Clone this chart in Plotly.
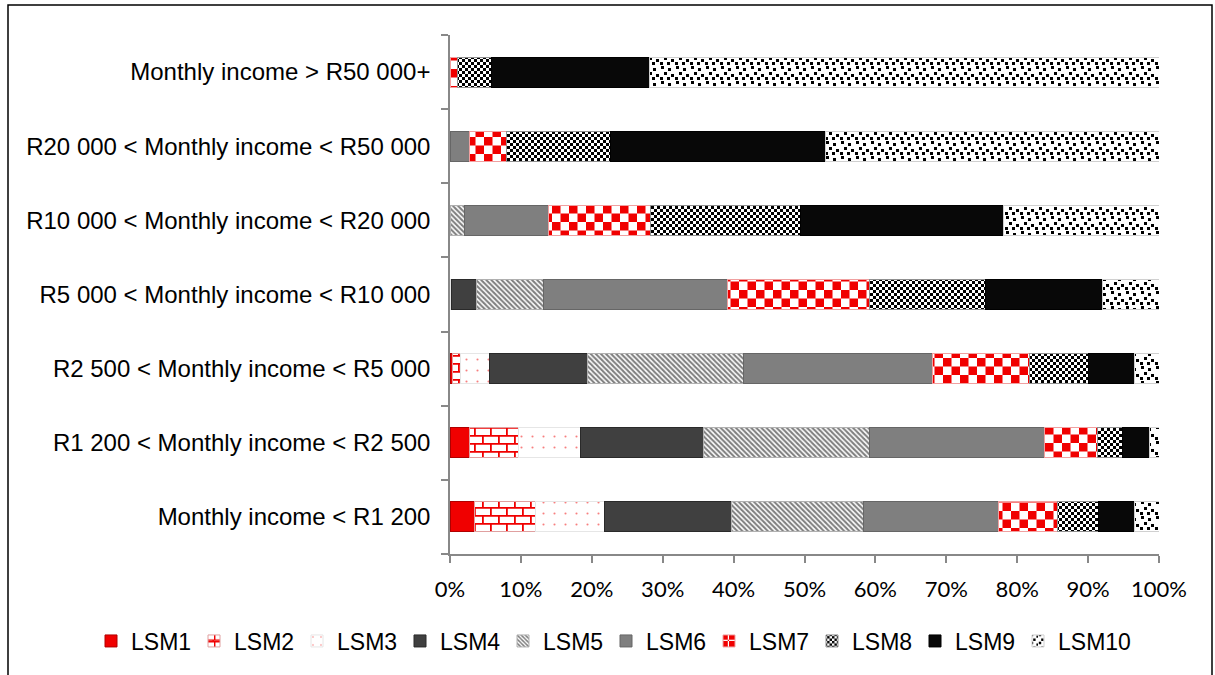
import plotly.graph_objects as go

# Income bands, listed bottom-to-top as they appear on the category axis
categories = [
    "Monthly income < R1 200",
    "R1 200 < Monthly income < R2 500",
    "R2 500 < Monthly income < R5 000",
    "R5 000 < Monthly income < R10 000",
    "R10 000 < Monthly income < R20 000",
    "R20 000 < Monthly income < R50 000",
    "Monthly income > R50 000+",
]

series_names = ["LSM1", "LSM2", "LSM3", "LSM4", "LSM5",
                "LSM6", "LSM7", "LSM8", "LSM9", "LSM10"]

# Share (%) of each LSM group within each income band
lsm1 = [3.5, 2.7, 0.3, 0.0, 0.0, 0.0, 0.0]
lsm2 = [8.5, 7.0, 1.2, 0.0, 0.0, 0.0, 0.0]
lsm3 = [9.8, 8.7, 4.1, 0.2, 0.0, 0.0, 0.0]
lsm4 = [17.9, 17.3, 13.8, 3.6, 0.0, 0.0, 0.0]
lsm5 = [18.6, 23.4, 22.0, 9.4, 2.0, 0.0, 0.0]
lsm6 = [19.0, 24.8, 26.7, 25.9, 11.9, 2.8, 0.0]
lsm7 = [8.4, 7.4, 13.7, 20.0, 14.4, 5.1, 1.0]
lsm8 = [5.7, 3.6, 8.2, 16.4, 21.2, 14.8, 4.9]
lsm9 = [5.2, 3.8, 6.6, 16.6, 28.6, 30.2, 22.3]
lsm10 = [3.4, 1.3, 3.4, 7.9, 21.9, 47.1, 71.8]

series_values = [lsm1, lsm2, lsm3, lsm4, lsm5, lsm6, lsm7, lsm8, lsm9, lsm10]

x_ticks = [0, 10, 20, 30, 40, 50, 60, 70, 80, 90, 100]
x_tick_labels = [f"{v}%" for v in x_ticks]


def checker(s):
    h = s / 2
    return f"M0,0H{h}V{h}H0Z M{h},{h}H{s}V{s}H{h}Z"


BRICK = "M0,0H16V1.8H0Z M0,8H16V9.8H0Z M0,0H1.8V8H0Z M8,8H9.8V16H8Z"
CONFETTI = ("M1,1H4V4H1Z M8,3H11V6H8Z M4,7H7V10H4Z "
            "M11,9H14V12H11Z M0,12H3V15H0Z M7,12H10V15H7Z")

red = "#F00000"
axis_grey = "#888888"

styles = [
    dict(color=red, line="#B00000", pattern=None),
    dict(color="white", line="#E0A0A0",
         pattern=dict(path=BRICK, size=16, fgcolor=red, bgcolor="white", fillmode="replace")),
    dict(color="white", line="#E6E6E6",
         pattern=dict(shape=".", size=11, solidity=0.03, fgcolor=red, bgcolor="white")),
    dict(color="#404040", line="#2A2A2A", pattern=None),
    dict(color="white", line="#B0B0B0",
         pattern=dict(shape="\\", size=3.6, solidity=0.55, fgcolor="black", bgcolor="white")),
    dict(color="#7F7F7F", line="#666666", pattern=None),
    dict(color="white", line="#F0A0A0",
         pattern=dict(path=checker(17), size=17, fgcolor=red, bgcolor="white", fillmode="replace")),
    dict(color="white", line="#909090",
         pattern=dict(path=checker(6), size=6, fgcolor="black", bgcolor="white", fillmode="replace")),
    dict(color="#080808", line="#000000", pattern=None),
    dict(color="white", line="#D0D0D0",
         pattern=dict(path=CONFETTI, size=15, fgcolor="black", bgcolor="white", fillmode="replace")),
]

fig = go.Figure()
for name, vals, st in zip(series_names, series_values, styles):
    marker = dict(color=st["color"], line=dict(color=st["line"], width=1))
    if st["pattern"] is not None:
        marker["pattern"] = st["pattern"]
    fig.add_trace(go.Bar(
        y=categories, x=vals, name=name, orientation="h",
        marker=marker, hoverinfo="name+x",
    ))

# empty trailing legend slot so the last (wider) label is not clipped
fig.add_trace(go.Bar(
    y=[None], x=[None], name="", orientation="h", showlegend=True,
    marker=dict(color="rgba(0,0,0,0)", line=dict(width=0)), hoverinfo="skip",
))

W, H = 1215, 675
ML, MR, MT, MB = 450, 56, 35, 121
pw, ph = W - ML - MR, H - MT - MB


def px_x(p):
    return (p - ML) / pw


def px_y(p):
    return (H - MB - p) / ph


# outer frame: left, top and right edges
fx0, fx1, fy0, fy1 = px_x(8), px_x(1212), px_y(700), px_y(5)
frame_path = f"M{fx0},{fy0} L{fx0},{fy1} L{fx1},{fy1} L{fx1},{fy0}"

fig.update_layout(
    width=W, height=H,
    barmode="stack", bargap=0.595,
    plot_bgcolor="white", paper_bgcolor="white",
    margin=dict(l=ML, r=MR, t=MT, b=MB, pad=0, autoexpand=False),
    font=dict(family="Liberation Sans, Arial, sans-serif", size=24, color="black"),
    legend=dict(
        orientation="h", xref="paper", yref="paper",
        x=px_x(91), xanchor="left", y=px_y(641), yanchor="middle",
        font=dict(size=23), traceorder="normal", itemclick=False,
        itemwidth=30, entrywidth=58, entrywidthmode="pixels",
        bgcolor="rgba(0,0,0,0)",
    ),
    xaxis=dict(
        range=[0, 100], tickvals=x_ticks, ticktext=x_tick_labels,
        showgrid=False, zeroline=False,
        showline=True, linecolor=axis_grey, linewidth=1.5,
        # long transparent major ticks set the label distance; short minor ticks are drawn
        ticks="outside", ticklen=15, tickcolor="rgba(0,0,0,0)", tickwidth=1.5,
        minor=dict(tickvals=x_ticks, ticks="outside", ticklen=7,
                   tickcolor=axis_grey, tickwidth=1.5, showgrid=False),
        tickfont=dict(family="Lato, Open Sans, sans-serif", size=22, color="black"),
    ),
    yaxis=dict(
        type="category", showgrid=False, zeroline=False,
        showline=True, linecolor=axis_grey, linewidth=1.5,
        ticks="outside", ticklen=7, tickcolor=axis_grey, tickwidth=1.5,
        tickson="boundaries", ticklabelstandoff=13,
        tickfont=dict(size=24, color="black"),
    ),
    shapes=[dict(
        type="path", xref="paper", yref="paper", path=frame_path,
        line=dict(color="black", width=1.5), layer="below",
    )],
)

fig.write_html("out.html")
